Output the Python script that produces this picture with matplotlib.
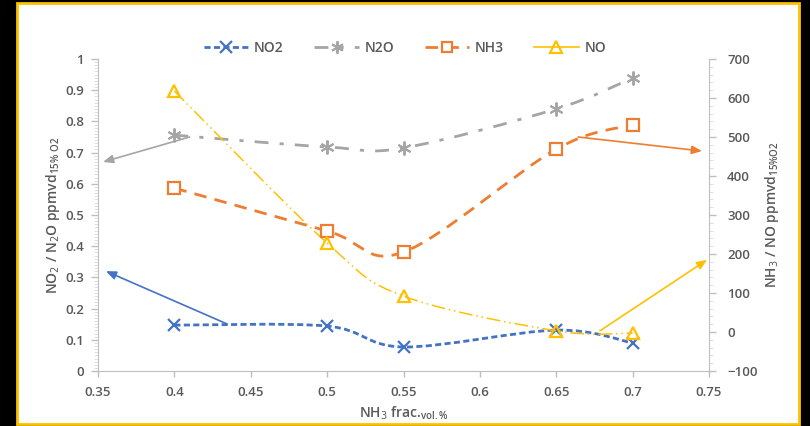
import numpy as np
import matplotlib
matplotlib.use("Agg")
import matplotlib.pyplot as plt
from matplotlib.path import Path
from matplotlib.patches import PathPatch, Rectangle
from matplotlib.ticker import MultipleLocator, FixedLocator
from matplotlib.lines import Line2D

# ---- data ----
x_frac = [0.40, 0.50, 0.55, 0.65, 0.70]
no2 = [0.147, 0.144, 0.077, 0.131, 0.090]
n2o = [0.756, 0.718, 0.715, 0.840, 0.939]
nh3 = [369, 259, 205, 469, 531]
no = [618, 228, 92, 3, -3]

x_ticks = [0.35, 0.4, 0.45, 0.5, 0.55, 0.6, 0.65, 0.7, 0.75]
x_tick_labels = ["0.35", "0.4", "0.45", "0.5", "0.55", "0.6", "0.65", "0.7", "0.75"]
left_ticks = [0, 0.1, 0.2, 0.3, 0.4, 0.5, 0.6, 0.7, 0.8, 0.9, 1.0]
left_tick_labels = ["0", "0.1", "0.2", "0.3", "0.4", "0.5", "0.6", "0.7", "0.8", "0.9", "1"]
right_ticks = [-100, 0, 100, 200, 300, 400, 500, 600, 700]

BLUE = "#4472C4"
GRAY = "#A5A5A5"
ORANGE = "#ED7D31"
GOLD = "#FFC000"
TXT = "#595959"
AX = "#BFBFBF"

LS_NO2 = (0, (2.2, 1.2))
LS_N2O = (0, (5, 4, 1.5, 4))
LS_NH3 = (0, (4.5, 3))
LS_NO = (0, (9, 2.5, 1, 2.5, 1, 2.5))

plt.rcParams['font.family'] = ['Open Sans', 'DejaVu Sans']

fig = plt.figure(figsize=(8.1, 4.26), dpi=100, facecolor="black")
# white panel with gold border
fig.patches.append(Rectangle((17 / 810, 1 - 424 / 426), (799 - 17) / 810, (424 - 3) / 426,
                             transform=fig.transFigure, facecolor="white",
                             edgecolor=GOLD, linewidth=2, zorder=-10))

ax = fig.add_axes([98 / 810, 1 - 371 / 426, (709 - 98) / 810, (371 - 59) / 426])
ax.set_facecolor("none")
ax2 = ax.twinx()
ax2.set_facecolor("none")


def smooth_path(axis, xs, ys, **kw):
    xs = np.asarray(xs, float)
    ys = np.asarray(ys, float)
    pts = np.column_stack([xs, ys])
    n = len(pts)
    verts = [pts[0]]
    codes = [Path.MOVETO]
    for i in range(n - 1):
        p0 = pts[i - 1] if i > 0 else pts[i]
        p1 = pts[i]
        p2 = pts[i + 1]
        p3 = pts[i + 2] if i + 2 < n else pts[i + 1]
        c1 = p1 + (p2 - p0) / 6.0
        c2 = p2 - (p3 - p1) / 6.0
        verts += [c1, c2, p2]
        codes += [Path.CURVE4] * 3
    patch = PathPatch(Path(verts, codes), facecolor="none", **kw)
    axis.add_patch(patch)
    return patch


# left-axis series
smooth_path(ax, x_frac, no2, edgecolor=BLUE, linewidth=2.0, linestyle=LS_NO2, zorder=3)
ax.plot(x_frac, no2, linestyle="none", marker="x", markersize=8, markeredgewidth=1.6,
        color=BLUE, zorder=4)
smooth_path(ax, x_frac, n2o, edgecolor=GRAY, linewidth=2.0, linestyle=LS_N2O, zorder=3)
ax.plot(x_frac, n2o, linestyle="none", marker=(6, 2, 0), markersize=10, markeredgewidth=1.4,
        color=GRAY, zorder=4)

# right-axis series
smooth_path(ax2, x_frac, nh3, edgecolor=ORANGE, linewidth=2.0, linestyle=LS_NH3, zorder=3)
ax2.plot(x_frac, nh3, linestyle="none", marker="s", markersize=8, markeredgewidth=1.6,
         markerfacecolor="white", color=ORANGE, zorder=4)
smooth_path(ax2, x_frac, no, edgecolor=GOLD, linewidth=1.1, linestyle=LS_NO, zorder=3)
ax2.plot(x_frac, no, linestyle="none", marker="^", markersize=9, markeredgewidth=1.6,
         markerfacecolor="none", color=GOLD, zorder=4)

# arrows pointing to axes
ap = dict(arrowstyle="-|>,head_length=0.6,head_width=0.25", linewidth=1.2, shrinkA=0, shrinkB=0)
ax.annotate("", xy=(0.3533, 0.670), xytext=(0.410, 0.750),
            arrowprops=dict(color=GRAY, **ap), annotation_clip=False)
ax.annotate("", xy=(0.3552, 0.320), xytext=(0.4344, 0.151),
            arrowprops=dict(color=BLUE, **ap), annotation_clip=False)
ax2.annotate("", xy=(0.7454, 464), xytext=(0.6643, 500),
             arrowprops=dict(color=ORANGE, **ap), annotation_clip=False)
ax2.annotate("", xy=(0.7487, 185), xytext=(0.6786, 3),
             arrowprops=dict(color=GOLD, **ap), annotation_clip=False)

# axes formatting
ax.set_xlim(0.35, 0.75)
ax.set_ylim(0, 1)
ax2.set_ylim(-100, 700)
ax.xaxis.set_major_locator(FixedLocator(x_ticks))
ax.set_xticklabels(x_tick_labels)
ax.yaxis.set_major_locator(FixedLocator(left_ticks))
ax.set_yticklabels(left_tick_labels)
ax.yaxis.set_minor_locator(MultipleLocator(0.01))
ax2.yaxis.set_major_locator(FixedLocator(right_ticks))
ax2.yaxis.set_minor_locator(MultipleLocator(20))

for a in (ax, ax2):
    a.spines["top"].set_visible(False)
    a.spines["left"].set_color(AX)
    a.spines["right"].set_color(AX)
    a.spines["bottom"].set_color(AX)
    a.tick_params(colors=AX, labelcolor=TXT, labelsize=9.5, width=1)
    for lab in a.get_yticklabels() + a.get_xticklabels():
        lab.set_fontweight("semibold")
ax.spines["right"].set_visible(False)
ax2.spines["left"].set_visible(False)
ax2.spines["bottom"].set_visible(False)
ax.tick_params(axis="y", which="major", length=5, direction="out", pad=5)
ax.tick_params(axis="y", which="minor", length=3, direction="out", color="#D9D9D9")
ax.tick_params(axis="x", which="major", length=4, direction="out", pad=7)
ax2.tick_params(axis="y", which="major", length=5, direction="out", pad=8)
ax2.tick_params(axis="y", which="minor", length=3, direction="out", color="#D9D9D9")

ax.set_xlabel(r"NH$_3$ frac.$_{\mathregular{vol.\%}}$", color=TXT, fontsize=10,
              fontweight="semibold", labelpad=4)
ax.set_ylabel(r"NO$_2$ / N$_2$O ppmvd$_{\mathregular{15\%\ O2}}$", color=TXT, fontsize=10,
              fontweight="semibold", labelpad=2)
ax2.set_ylabel(r"NH$_3$ / NO ppmvd$_{\mathregular{15\%O2}}$", color=TXT, fontsize=10,
               fontweight="semibold", labelpad=4)

# legend
handles = [
    Line2D([], [], color=BLUE, linestyle=LS_NO2, linewidth=2, marker="x",
           markersize=8, markeredgewidth=1.6),
    Line2D([], [], color=GRAY, linestyle=LS_N2O, linewidth=2, marker=(6, 2, 0),
           markersize=9, markeredgewidth=1.4),
    Line2D([], [], color=ORANGE, linestyle=LS_NH3, linewidth=2, marker="s",
           markersize=7, markeredgewidth=1.6, markerfacecolor="white"),
    Line2D([], [], color=GOLD, linestyle="-", linewidth=1.2, marker="^",
           markersize=8, markeredgewidth=1.6, markerfacecolor="none"),
]
leg = fig.legend(handles, ["NO2", "N2O", "NH3", "NO"], loc="center",
                 bbox_to_anchor=(405 / 810, 1 - 48 / 426), ncol=4, frameon=False,
                 fontsize=10, handlelength=3.2, columnspacing=2.2, handletextpad=0.4)
for t in leg.get_texts():
    t.set_color(TXT)
    t.set_fontweight("semibold")

fig.savefig("out.png", dpi=100, facecolor="black")
